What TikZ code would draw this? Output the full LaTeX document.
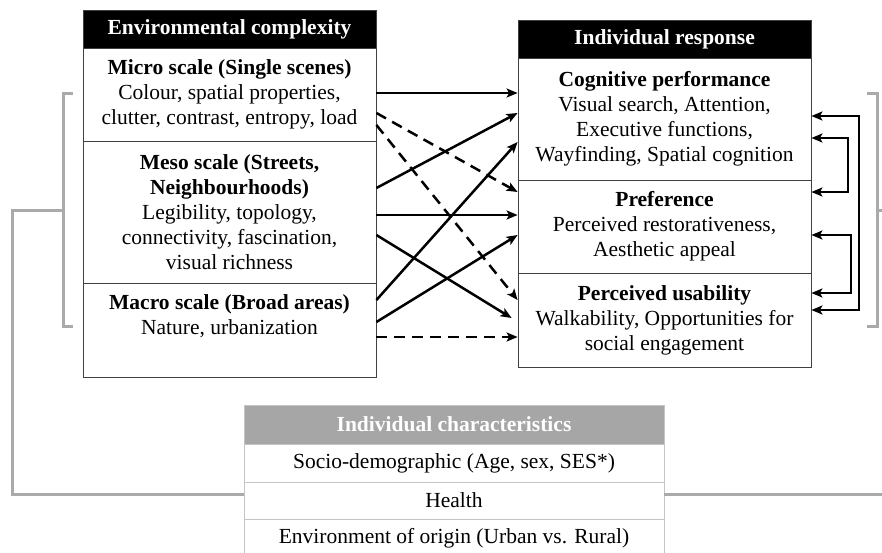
\documentclass[tikz,border=0pt]{standalone}
\usepackage{fontspec}
\setmainfont{Liberation Serif}
\usetikzlibrary{arrows.meta}
\newcommand\myfs{\fontsize{21.5}{25}\selectfont}
\definecolor{brk}{HTML}{AAAAAA}
\definecolor{hdrgray}{HTML}{A6A6A6}
\definecolor{rowgray}{HTML}{C4C4C4}
\tikzset{
  box/.style={draw=black!75, line width=0.8pt, minimum width=293pt, inner sep=0pt, align=center, font=\myfs},
  hdr/.style={box, fill=black, text=white, font=\myfs\bfseries},
  txt/.style={inner sep=0pt, align=center, font=\myfs},
  cbox/.style={draw=rowgray, line width=0.8pt, minimum width=420pt, inner sep=0pt, align=center, font=\myfs},
  chdr/.style={cbox, fill=hdrgray, text=white, font=\myfs\bfseries},
  arr/.style={line width=2.5pt, -{Stealth[length=11pt,width=9pt,inset=2.5pt]}},
  dsh/.style={arr, dash pattern=on 11pt off 7pt},
  fb/.style={line width=2.5pt, {Stealth[length=11pt,width=9pt,inset=2.5pt]}-{Stealth[length=11pt,width=9pt,inset=2.5pt]}},
  bracket/.style={draw=brk, line width=3pt}
}
\begin{document}
\begin{tikzpicture}[x=1pt,y=-1pt]
\useasboundingbox (0,0) rectangle (882,552);
\clip (0,0) rectangle (882,552);
% left column
\node[hdr, minimum height=38pt] (envh) at (229.5,29) {Environmental complexity};
\node[box, minimum height=93pt] (micro) at (229.5,94.5) {\textbf{Micro scale (Single scenes)}\\Colour, spatial properties,\\clutter, contrast, entropy, load};
\node[box, minimum height=142pt] (meso) at (229.5,212) {\textbf{Meso scale (Streets,}\\\textbf{Neighbourhoods)}\\Legibility, topology,\\connectivity, fascination,\\visual richness};
\node[box, minimum height=94pt] (macro) at (229.5,330) {};
\node[txt, anchor=north] (macrot) at (229.5,294) {\textbf{Macro scale (Broad areas)}\\Nature, urbanization};
% right column
\node[hdr, minimum height=38pt] (resh) at (664.5,39) {Individual response};
\node[box, minimum height=122pt] (cog) at (664.5,119) {\textbf{Cognitive performance}\\Visual search, Attention,\\Executive functions,\\Wayfinding, Spatial cognition};
\node[box, minimum height=93pt] (pref) at (664.5,226.5) {\textbf{Preference}\\Perceived restorativeness,\\Aesthetic appeal};
\node[box, minimum height=94pt] (usab) at (664.5,320) {\textbf{Perceived usability}\\Walkability, Opportunities for\\social engagement};
% individual characteristics
\node[chdr, minimum height=39pt] (chh) at (454,424.5) {Individual characteristics};
\node[cbox, minimum height=38pt] (socio) at (454,463) {Socio-demographic (Age, sex, SES*)};
\node[cbox, minimum height=37pt] (health) at (454,500.5) {Health};
\node[cbox, minimum height=38pt] (origin) at (454,538) {Environment of origin (Urban vs. Rural)};
% arrows between columns
\draw[arr] (micro.east |- 0,93) -- (cog.west |- 0,93);
\draw[dsh] (micro.east |- 0,113) -- (pref.west |- 0,192);
\draw[dsh] (micro.east |- 0,125) -- (usab.west |- 0,300);
\draw[arr] (meso.east |- 0,188) -- (cog.west |- 0,113);
\draw[arr] (meso.east |- 0,215) -- (pref.west |- 0,215);
\draw[arr] (meso.east |- 0,235) -- ([xshift=-6pt]usab.west |- 0,318);
\draw[arr] (macro.east |- 0,300) -- (cog.west |- 0,142);
\draw[arr] (macro.east |- 0,322) -- (pref.west |- 0,235);
\draw[dsh] (macro.east |- 0,337) -- (usab.west |- 0,337);
% feedback arrows
\draw[fb] (cog.east |- 0,116) -- (859,116) -- (859,310) -- (usab.east |- 0,310);
\draw[fb] (cog.east |- 0,138) -- (848,138) -- (848,192) -- (pref.east |- 0,192);
\draw[fb] (pref.east |- 0,235) -- (851,235) -- (851,293) -- (usab.east |- 0,293);
% grey brackets
\draw[bracket] (73,93) -- (63,93) -- (63,326) -- (73,326);
\draw[bracket] (63,210) -- (12,210) -- (12,494) -- (socio.west |- 0,494);
\draw[bracket] (867,93) -- (877,93) -- (877,326) -- (867,326);
\draw[bracket] (877,210) -- (890,210);
\draw[bracket] (socio.east |- 0,494) -- (890,494);
\end{tikzpicture}
\end{document}
